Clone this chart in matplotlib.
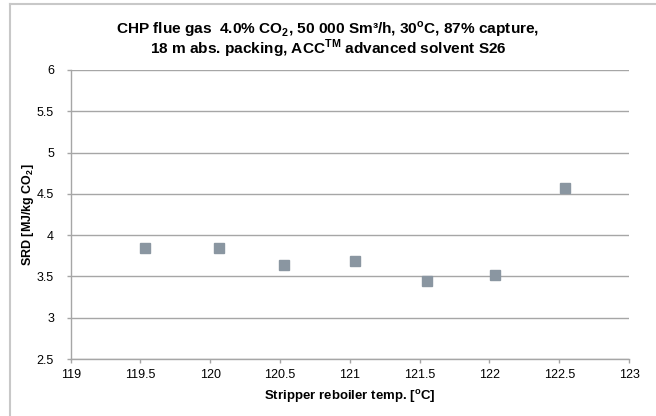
import matplotlib.pyplot as plt
from matplotlib.lines import Line2D

plt.rcParams['font.family'] = ['Liberation Sans', 'DejaVu Sans']
plt.rcParams['mathtext.fontset'] = 'custom'
plt.rcParams['mathtext.rm'] = 'Liberation Sans'
plt.rcParams['mathtext.bf'] = 'Liberation Sans:bold'

# Data
reboiler_temp = [119.53, 120.06, 120.53, 121.04, 121.55, 122.04, 122.54]
srd = [3.85, 3.84, 3.64, 3.69, 3.45, 3.52, 4.57]

x_ticks = [119, 119.5, 120, 120.5, 121, 121.5, 122, 122.5, 123]
y_ticks = [2.5, 3, 3.5, 4, 4.5, 5, 5.5, 6]

title_lines = [
    r'CHP flue gas  4.0% CO$_\mathbf{2}$, 50 000 Sm³/h, 30$^\mathbf{o}$C, 87% capture,',
    r'18 m abs. packing, ACC$^\mathbf{TM}$ advanced solvent S26',
]

grey = '#a6a6a6'
marker_col = '#8a96a1'

W, H = 656, 416
fig = plt.figure(figsize=(W / 100, H / 100), dpi=100)
ax = fig.add_axes([70.7 / W, 1 - 359 / H, (629 - 70.7) / W, (359 - 70) / H])

ax.plot(reboiler_temp, srd, linestyle='none', marker='s', markersize=7.6,
        color=marker_col, markeredgecolor=marker_col, zorder=3)

ax.set_xlim(119, 123)
ax.set_ylim(2.5, 6)
ax.set_xticks(x_ticks)
ax.set_xticklabels([f'{t:g}' for t in x_ticks])
ax.set_yticks(y_ticks)
ax.set_yticklabels([f'{t:g}' for t in y_ticks])

ax.grid(axis='y', color=grey, linewidth=1)
ax.set_axisbelow(True)
for side in ['top', 'right']:
    ax.spines[side].set_visible(False)
for side in ['left', 'bottom']:
    ax.spines[side].set_color(grey)
    ax.spines[side].set_linewidth(1)
ax.tick_params(axis='both', colors=grey, labelcolor='black', labelsize=9,
               length=3, width=1, direction='out')
ax.tick_params(axis='y', pad=9)
ax.tick_params(axis='x', pad=4)

ax.set_xlabel(r'Stripper reboiler temp. [$^\mathbf{o}$C]', fontsize=9.5,
              fontweight='bold', labelpad=5)
ax.set_ylabel(r'SRD [MJ/kg CO$_\mathbf{2}$]', fontsize=9,
              fontweight='bold', labelpad=0.5)

for i, line in enumerate(title_lines):
    fig.text(0.5, 1 - (34 + 20 * i) / H, line, ha='center', va='baseline',
             fontsize=11.1, fontweight='bold')

# chart area border (left and top only visible)
fig.add_artist(Line2D([10 / W, 10 / W], [0, 1 - 4 / H],
                      transform=fig.transFigure, color='#c8c8c8', linewidth=1.5))
fig.add_artist(Line2D([10 / W, 1], [1 - 4 / H, 1 - 4 / H],
                      transform=fig.transFigure, color='#c8c8c8', linewidth=1.5))

fig.savefig('out.png', dpi=100)
